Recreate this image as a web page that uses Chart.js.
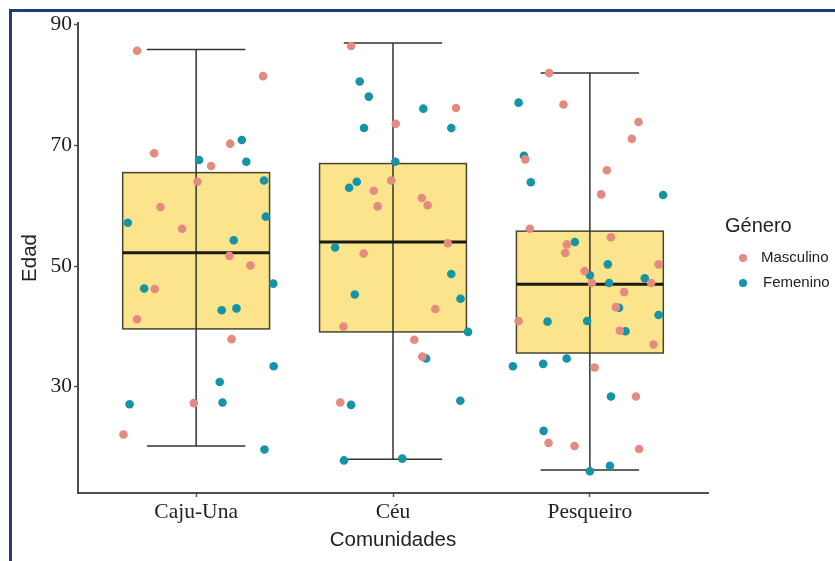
<!DOCTYPE html>
<html>

<head>
    <title>Edad por comunidad</title>
    <script src="https://cdn.jsdelivr.net/npm/chart.js"></script>
    <style>
        body { margin: 0; background: #fff; }
        #wrap { position: relative; width: 835px; height: 561px; overflow: hidden; }
        #frame {
            position: absolute; left: 9px; top: 9px; right: 0; bottom: 0;
            border-top: 3px solid #1f3b7a; border-left: 3px solid #1f3b7a;
            pointer-events: none;
        }
    </style>
</head>

<body>
    <div id="wrap">
        <canvas id="myChart" width="835" height="561"></canvas>
        <div id="frame"></div>
    </div>

    <script>
        const categories = ['Caju-Una', 'Céu', 'Pesqueiro'];
        const yTicks = [30, 50, 70, 90];
        const legendTitle = 'Género';

        // box plot summary per community
        const whiskerMin = [20.2, 18.0, 16.2];
        const boxQ1 = [39.6, 39.1, 35.6];
        const boxMedian = [52.2, 54.0, 47.0];
        const boxQ3 = [65.5, 67.0, 55.8];
        const whiskerMax = [85.9, 87.0, 82.0];

        // jittered points (x = community index + jitter)
        const masculinoX = [0.70, 1.34, 0.787, 1.173, 1.076, 1.007, 0.819, 0.929, 1.169, 1.276, 0.79, 0.70, 1.18, 0.988, 0.631,
            1.787, 2.32, 2.014, 1.991, 1.902, 1.922, 2.146, 2.176, 2.278, 1.851, 2.215, 1.748, 2.108, 2.149, 1.732,
            2.793, 2.866, 3.247, 3.213, 2.672, 3.086, 3.057, 2.695, 3.107, 2.883, 2.875, 3.349, 2.973, 3.01, 3.311,
            3.174, 3.132, 2.638, 3.152, 3.323, 3.024, 3.234, 2.79, 2.922, 3.25];
        const masculinoY = [85.7, 81.5, 68.7, 70.3, 66.6, 64.0, 59.8, 56.2, 51.7, 50.1, 46.2, 41.2, 37.9, 27.3, 22.1,
            86.5, 76.2, 73.6, 64.2, 62.5, 59.9, 61.3, 60.1, 53.8, 52.1, 42.9, 40.0, 37.8, 35.0, 27.4,
            82.0, 76.8, 73.9, 71.1, 67.7, 65.9, 61.9, 56.2, 54.8, 53.6, 52.2, 50.3, 49.2, 47.2, 47.2,
            45.7, 43.2, 40.9, 39.3, 37.0, 33.2, 28.4, 20.7, 20.2, 19.7];
        const femeninoX = [1.232, 1.015, 1.255, 1.345, 0.653, 1.354, 1.191, 1.392, 0.736, 1.13, 1.205, 1.394, 1.12, 0.662, 1.134, 1.347,
            1.831, 1.877, 2.154, 1.853, 2.296, 2.012, 1.816, 1.777, 1.706, 2.296, 1.806, 2.343, 2.381, 2.168, 1.787, 2.342, 1.751, 2.047,
            2.638, 2.665, 2.70, 3.372, 2.924, 3.091, 3.0, 3.279, 3.098, 3.148, 3.349, 2.785, 2.986, 3.181, 2.882, 2.609, 2.763, 3.107,
            2.765, 3.102, 3.0];
        const femeninoY = [70.9, 67.6, 67.3, 64.2, 57.2, 58.2, 54.3, 47.1, 46.3, 42.7, 43.0, 33.4, 30.8, 27.1, 27.4, 19.6,
            80.6, 78.1, 76.1, 72.9, 72.9, 67.3, 64.0, 63.0, 53.1, 48.7, 45.3, 44.6, 39.1, 34.7, 27.0, 27.7, 17.8, 18.1,
            77.1, 68.3, 63.9, 61.8, 54.0, 50.3, 48.5, 48.0, 47.2, 43.1, 41.9, 40.8, 40.9, 39.2, 34.7, 33.4, 33.8, 28.4,
            22.7, 16.9, 16.0];

        const toPoints = (xs, ys) => xs.map((x, i) => ({ x, y: ys[i] }));

        // boxes and whiskers drawn under the points, through the chart scales
        const boxPlot = {
            id: 'boxPlot',
            beforeDatasetsDraw(chart) {
                const { ctx, scales: { x, y } } = chart;
                ctx.save();
                categories.forEach((c, i) => {
                    const cx = i + 1;
                    const l = x.getPixelForValue(cx - 0.373);
                    const r = x.getPixelForValue(cx + 0.373);
                    const top = y.getPixelForValue(boxQ3[i]);
                    const bot = y.getPixelForValue(boxQ1[i]);
                    ctx.fillStyle = '#fce48c';
                    ctx.fillRect(l, top, r - l, bot - top);
                    ctx.strokeStyle = '#4a4530';
                    ctx.lineWidth = 1.5;
                    ctx.strokeRect(l, top, r - l, bot - top);

                    const px = x.getPixelForValue(cx);
                    const cl = x.getPixelForValue(cx - 0.25);
                    const cr = x.getPixelForValue(cx + 0.25);
                    const yMin = y.getPixelForValue(whiskerMin[i]);
                    const yMax = y.getPixelForValue(whiskerMax[i]);
                    ctx.strokeStyle = '#333';
                    ctx.lineWidth = 1.5;
                    ctx.beginPath();
                    ctx.moveTo(px, yMin); ctx.lineTo(px, yMax);
                    ctx.moveTo(cl, yMin); ctx.lineTo(cr, yMin);
                    ctx.moveTo(cl, yMax); ctx.lineTo(cr, yMax);
                    ctx.stroke();

                    const ym = y.getPixelForValue(boxMedian[i]);
                    ctx.strokeStyle = '#1a1a10';
                    ctx.lineWidth = 3;
                    ctx.beginPath();
                    ctx.moveTo(l, ym); ctx.lineTo(r, ym);
                    ctx.stroke();
                });
                ctx.restore();
            }
        };

        const generoLegend = {
            id: 'generoLegend',
            afterDraw(chart) {
                const ctx = chart.ctx;
                ctx.save();
                ctx.textBaseline = 'middle';
                ctx.fillStyle = '#222';
                ctx.font = '20px "Liberation Sans"';
                ctx.fillText(legendTitle, 725, 226);
                chart.data.datasets.forEach((ds, i) => {
                    const yy = 258 + i * 25;
                    ctx.beginPath();
                    ctx.arc(743, yy, 4, 0, Math.PI * 2);
                    ctx.fillStyle = ds.backgroundColor;
                    ctx.fill();
                    ctx.fillStyle = '#222';
                    ctx.font = '15px "Liberation Sans"';
                    ctx.fillText(ds.label, 761 + i * 2, yy);
                });
                ctx.restore();
            }
        };

        const chart = new Chart('myChart', {
            type: 'scatter',
            data: {
                datasets: [
                    { label: 'Masculino', data: toPoints(masculinoX, masculinoY), backgroundColor: '#e48a80', borderWidth: 0, pointRadius: 4.3 },
                    { label: 'Femenino', data: toPoints(femeninoX, femeninoY), backgroundColor: '#1594a5', borderWidth: 0, pointRadius: 4.3 }
                ]
            },
            options: {
                responsive: false,
                animation: false,
                events: [],
                layout: { padding: { left: 14, top: 23, right: 127, bottom: 4 } },
                plugins: { legend: { display: false }, tooltip: { enabled: false } },
                scales: {
                    x: {
                        type: 'linear',
                        min: 0.4,
                        max: 3.6,
                        afterBuildTicks: s => { s.ticks = categories.map((c, i) => ({ value: i + 1 })); },
                        afterFit: s => { s.height = 64; },
                        grid: { drawOnChartArea: false, tickLength: 4, tickColor: '#555', tickWidth: 1.5 },
                        border: { color: '#4d4d4d', width: 2 },
                        ticks: {
                            autoSkip: false,
                            maxRotation: 0,
                            padding: 2,
                            color: '#222',
                            font: { family: 'Liberation Serif', size: 21.5 },
                            callback: v => categories[v - 1]
                        },
                        title: {
                            display: true, text: 'Comunidades', color: '#222',
                            font: { family: 'Liberation Sans', size: 20.5 },
                            padding: { top: 0, bottom: 4 }
                        }
                    },
                    y: {
                        min: 12.4,
                        max: 90.3,
                        afterBuildTicks: s => { s.ticks = yTicks.map(v => ({ value: v })); },
                        afterFit: s => { s.width = 64; },
                        grid: { drawOnChartArea: false, tickLength: 4, tickColor: '#555', tickWidth: 1.5 },
                        border: { color: '#4d4d4d', width: 2 },
                        ticks: {
                            padding: 2,
                            color: '#222',
                            font: { family: 'Liberation Serif', size: 21.5 }
                        },
                        title: {
                            display: true, text: 'Edad', color: '#222',
                            font: { family: 'Liberation Sans', size: 20.5 },
                            padding: { top: 4, bottom: 0 }
                        }
                    }
                }
            },
            plugins: [boxPlot, generoLegend]
        });
    </script>
</body>

</html>
